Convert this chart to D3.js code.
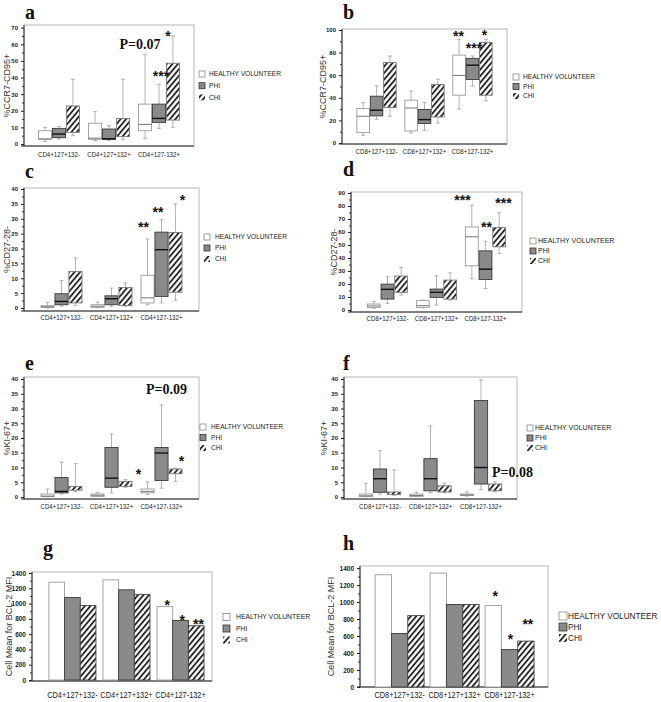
<!DOCTYPE html>
<html>
<head>
<meta charset="utf-8">
<script src="https://cdn.jsdelivr.net/npm/d3@7"></script>
<style>
body { margin: 0; background: #fff; }
</style>
</head>
<body>
<svg id="fig" width="661" height="702" font-family="'Liberation Sans', Arial, sans-serif"></svg>
<script>
// categories and groups
const cd4Cats = ["CD4+127+132-", "CD4+127+132+", "CD4+127-132+"];
const cd8Cats = ["CD8+127+132-", "CD8+127+132+", "CD8+127-132+"];
const groups = ["HEALTHY VOLUNTEER", "PHI", "CHI"];

// box stats per category: [min, q1, median, q3, max]
const aHV  = [[1.5, 3, 3, 8, 10], [2, 2.8, 3.5, 12.5, 19.5], [3.4, 8, 11.8, 24, 54]];
const aPHI = [[3, 3.8, 6, 9.4, 10.5], [2.2, 2.8, 3.2, 9, 11], [9.4, 13, 15.4, 24, 36]];
const aCHI = [[5, 7, 12, 22.9, 39], [2.8, 4.4, 8, 15.4, 39], [10, 14.4, 30, 48.6, 65]];

const bHV  = [[6.8, 9.2, 23.7, 30.5, 35.8], [8.9, 10.7, 31, 37.9, 45.9], [29.9, 42.3, 59.8, 77.8, 91.7]];
const bPHI = [[21, 24, 29, 41.4, 50.6], [11.2, 17.2, 20.7, 29.6, 35.8], [50.3, 56.2, 68.9, 74.9, 77]];
const bCHI = [[23.7, 31.4, 50, 71.3, 77], [17.8, 23, 35, 51.8, 56.5], [37.3, 42.3, 70, 89, 91.7]];

const cHV  = [[0, 0.2, 0.4, 0.8, 1.9], [0.1, 0.2, 0.6, 1.1, 2], [1.1, 1.7, 3.4, 11, 23.2]];
const cPHI = [[0.6, 1.1, 2.2, 4.8, 9.2], [0.6, 1.1, 3.1, 4.1, 6.7], [1.7, 3.9, 19.6, 25.5, 29.7]];
const cCHI = [[0.8, 1.7, 5, 12.3, 16.8], [0.6, 0.8, 3, 6.9, 8.4], [2.6, 5.3, 15, 25.4, 35]];

const dHV  = [[1.3, 2, 3.1, 4.6, 6.4], [1.6, 2, 3.3, 7.2, 7.7], [24, 34, 56.3, 63.9, 80.5]];
const dPHI = [[5.1, 8.4, 15.9, 19.9, 25.6], [3.8, 9.7, 13.6, 16.1, 26.3], [16.6, 23.5, 31.4, 45.5, 52.9]];
const dCHI = [[11.5, 13.6, 20, 26.1, 32.7], [7.7, 8.4, 15, 23, 28.6], [43.5, 48.6, 56, 63.4, 74.9]];

const eHV  = [[0.1, 0.2, 0.3, 1, 2.7], [0.2, 0.2, 0.6, 1, 1.6], [0.8, 1.4, 1.9, 2.7, 5.1]];
const ePHI = [[1, 1.4, 1.9, 6.6, 11.8], [1.4, 3.3, 6.4, 16.8, 21.4], [3, 5.6, 14.9, 16.8, 31.2]];
const eCHI = [[1.7, 2.3, 3, 3.6, 11.3], [3.3, 3.6, 4.5, 5.3, 5.9], [5.3, 7.9, 8.7, 9.5, 9.8]];

const fHV  = [[0.1, 0.2, 0.4, 1, 4.7], [0.1, 0.2, 0.5, 1, 1.7], [0.3, 0.5, 0.7, 1, 1.7]];
const fPHI = [[1, 1.6, 6.2, 9.5, 15.7], [1.4, 2.1, 6.2, 13, 24.1], [2.5, 4.4, 10, 32.7, 39.7]];
const fCHI = [[0.6, 0.8, 1.2, 1.7, 9.2], [1.4, 1.7, 2.7, 3.8, 4.7], [1.8, 2.1, 3, 4.4, 5.1]];

// BCL-2 mean MFI
const gHV  = [1280, 1310, 960];
const gPHI = [1080, 1180, 780];
const gCHI = [975, 1120, 710];
const hHV  = [1320, 1340, 960];
const hPHI = [630, 970, 440];
const hCHI = [840, 970, 540];

// y tick values
const ticks70 = d3.range(0, 71, 10);
const ticks100 = d3.range(0, 101, 20);
const ticks40 = d3.range(0, 41, 5);
const ticks90 = d3.range(0, 91, 10);
const ticks1400 = d3.range(0, 1401, 200);

const SANS = "'Liberation Sans', Arial, sans-serif";
const SERIF = "'Liberation Serif', 'Times New Roman', serif";

const svg = d3.select("#fig");
const defs = svg.append("defs");
defs.append("pattern")
  .attr("id", "hatch")
  .attr("patternUnits", "userSpaceOnUse")
  .attr("width", 4.2).attr("height", 4.2)
  .attr("patternTransform", "rotate(40)")
  .call(p => p.append("rect").attr("width", 4.2).attr("height", 4.2).attr("fill", "#fff"))
  .append("line")
  .attr("x1", 1).attr("y1", 0).attr("x2", 1).attr("y2", 4.2)
  .attr("stroke", "#111").attr("stroke-width", 1.7);

const fills = { "HEALTHY VOLUNTEER": "#fff", "PHI": "#8a8a8a", "CHI": "url(#hatch)" };
const strokes = { "HEALTHY VOLUNTEER": "#9a9a9a", "PHI": "#3a3a3a", "CHI": "#777" };

function panel(p) {
  const g = svg.append("g");
  const x = d3.scaleBand().domain(p.cats).range([p.left, p.right])
    .paddingInner(p.pi).paddingOuter(p.po).align(p.align == null ? 0.5 : p.align);
  const y = d3.scaleLinear().domain([0, p.max]).range([p.zero, p.topTick]);
  const sub = d3.scaleBand().domain(groups).range([0, x.bandwidth()]).paddingInner(p.gap || 0);

  // frame
  g.append("rect")
    .attr("x", p.left).attr("y", p.top)
    .attr("width", p.right - p.left).attr("height", p.bottom - p.top)
    .attr("fill", "none").attr("stroke", "#b8b8b8").attr("stroke-width", 1);

  // y axis with minor ticks
  const step = p.ticks[1] - p.ticks[0];
  const minor = d3.range(step / 2, p.max, step);
  g.append("g").attr("transform", `translate(${p.left},0)`)
    .call(d3.axisLeft(y).tickValues(minor).tickSize(2).tickFormat(""))
    .call(a => a.select(".domain").remove())
    .selectAll("line").attr("stroke", "#333");
  const ya = g.append("g").attr("transform", `translate(${p.left},0)`)
    .call(d3.axisLeft(y).tickValues(p.ticks).tickSize(3).tickPadding(3).tickFormat(d3.format("d")));
  ya.select(".domain").remove();
  ya.selectAll("line").attr("stroke", "#222");
  ya.selectAll("text").attr("font-size", p.tickFont || 6).attr("font-weight", "bold").attr("fill", "#222")
    .attr("font-family", SANS);
  g.append("line").attr("x1", p.left).attr("x2", p.left).attr("y1", p.top).attr("y2", p.bottom)
    .attr("stroke", "#222").attr("stroke-width", 1);
  g.append("line").attr("x1", p.left - 3).attr("x2", p.right).attr("y1", p.bottom).attr("y2", p.bottom)
    .attr("stroke", "#222").attr("stroke-width", 1);

  // category labels (slightly condensed like the original)
  p.cats.forEach(c => {
    g.append("text")
      .attr("transform", `translate(${x(c) + x.bandwidth() / 2},${p.labelY}) scale(0.82,1)`)
      .attr("text-anchor", "middle").attr("font-size", p.catFont || 7.5).attr("fill", "#222")
      .text(c);
  });

  // y title
  g.append("text")
    .attr("transform", `translate(${p.titleX},${(p.top + p.bottom) / 2}) rotate(-90)`)
    .attr("text-anchor", "middle").attr("font-size", p.titleFont || 9).attr("fill", "#333")
    .text(p.title);

  // marks
  p.series.forEach((ser, gi) => {
    const grp = groups[gi];
    ser.forEach((v, ci) => {
      const cat = p.cats[ci];
      const x0 = x(cat) + sub(grp);
      const w = sub.bandwidth();
      const cx = x0 + w / 2;
      if (p.kind === "bar") {
        g.append("rect")
          .attr("x", x0).attr("y", y(v)).attr("width", w).attr("height", y(0) - y(v))
          .attr("fill", fills[grp]).attr("stroke", grp === "CHI" ? "#444" : strokes[grp]).attr("stroke-width", 0.9);
      } else {
        const [mn, q1, md, q3, mx] = v;
        const wc = "#a0a0a0";
        g.append("line").attr("x1", cx).attr("x2", cx).attr("y1", y(mx)).attr("y2", y(q3)).attr("stroke", wc).attr("stroke-width", 0.8);
        g.append("line").attr("x1", cx).attr("x2", cx).attr("y1", y(q1)).attr("y2", y(mn)).attr("stroke", wc).attr("stroke-width", 0.8);
        [mx, mn].forEach(t => g.append("line").attr("x1", cx - 2).attr("x2", cx + 2).attr("y1", y(t)).attr("y2", y(t))
          .attr("stroke", wc).attr("stroke-width", 0.8));
        g.append("rect")
          .attr("x", x0).attr("y", y(q3)).attr("width", w).attr("height", Math.max(0.8, y(q1) - y(q3)))
          .attr("fill", fills[grp]).attr("stroke", strokes[grp]).attr("stroke-width", 0.9);
        if (grp !== "CHI") {
          g.append("line").attr("x1", x0).attr("x2", x0 + w).attr("y1", y(md)).attr("y2", y(md))
            .attr("stroke", grp === "PHI" ? "#111" : "#777").attr("stroke-width", grp === "PHI" ? 1.4 : 1);
        }
      }
    });
  });

  // significance marks and p-values
  (p.notes || []).forEach(n => {
    g.append("text")
      .attr("x", x(p.cats[n.cat]) + x.bandwidth() / 2 + n.dx)
      .attr("y", y(n.v))
      .attr("text-anchor", "middle")
      .attr("font-family", n.serif ? SERIF : SANS)
      .attr("font-weight", "bold")
      .attr("font-size", n.size || 14)
      .attr("fill", "#111")
      .text(n.t);
  });

  // legend
  const L = p.legend;
  groups.forEach((grp, i) => {
    const cy = L.y + i * L.dy;
    g.append("rect").attr("x", L.x).attr("y", cy - L.s / 2).attr("width", L.s).attr("height", L.s)
      .attr("fill", fills[grp]).attr("stroke", grp === "CHI" ? "none" : (grp === "PHI" ? "#333" : "#888")).attr("stroke-width", 0.8);
    g.append("text").attr("x", L.tx).attr("y", cy).attr("dy", "0.35em")
      .attr("font-size", L.f).attr("fill", "#222").text(grp);
  });

  // panel letter
  svg.append("text").attr("x", p.letter[1]).attr("y", p.letter[2])
    .attr("font-family", SERIF)
    .attr("font-weight", "bold").attr("font-size", 20).attr("fill", "#111")
    .text(p.letter[0]);
}

panel({
  kind: "box", cats: cd4Cats, series: [aHV, aPHI, aCHI], max: 70, ticks: ticks70,
  left: 24, right: 194, top: 25, bottom: 146, zero: 144, topTick: 27.7,
  pi: 0.18, po: 0.29, gap: 0.06, labelY: 157, title: "%CCR7-CD95+", titleX: 10,
  legend: { x: 199, tx: 209, y: 74, dy: 11.7, s: 6, f: 6.6 },
  letter: ["a", 25, 19],
  notes: [
    { cat: 2, dx: 9, v: 62, t: "*" },
    { cat: 2, dx: 2, v: 38, t: "***" },
    { cat: 2, dx: -19, v: 57, t: "P=0.07", serif: true, size: 14 }
  ]
});

panel({
  kind: "box", cats: cd8Cats, series: [bHV, bPHI, bCHI], max: 100, ticks: ticks100,
  left: 342, right: 507, top: 29, bottom: 144, zero: 143, topTick: 30,
  pi: 0.18, po: 0.31, gap: 0.06, labelY: 153.5, title: "%CCR7-CD95+", titleX: 326,
  legend: { x: 513, tx: 523, y: 77, dy: 9.5, s: 6, f: 6.6 },
  letter: ["b", 343, 19],
  notes: [
    { cat: 2, dx: -14, v: 90.3, t: "**" },
    { cat: 2, dx: 1.5, v: 79.6, t: "***" },
    { cat: 2, dx: 12, v: 91, t: "*" }
  ]
});

panel({
  kind: "box", cats: cd4Cats, series: [cHV, cPHI, cCHI], max: 40, ticks: ticks40,
  left: 24, right: 199, top: 188, bottom: 311, zero: 308, topTick: 189,
  pi: 0.18, po: 0.34, gap: 0.06, labelY: 320, title: "%CD27-28-", titleX: 10,
  legend: { x: 204, tx: 215, y: 237, dy: 11, s: 6, f: 6.6 },
  letter: ["c", 25, 178],
  notes: [
    { cat: 2, dx: -18, v: 25.5, t: "**" },
    { cat: 2, dx: -3.5, v: 30.6, t: "**" },
    { cat: 2, dx: 21, v: 34.6, t: "*" }
  ]
});

panel({
  kind: "box", cats: cd8Cats, series: [dHV, dPHI, dCHI], max: 90, ticks: ticks90,
  left: 351, right: 522, top: 192, bottom: 312, zero: 310, topTick: 193,
  pi: 0.18, po: 0.335, gap: 0.06, labelY: 321, title: "%CD27-28-", titleX: 337,
  legend: { x: 530, tx: 538, y: 241, dy: 10, s: 6, f: 7 },
  letter: ["d", 343, 176],
  notes: [
    { cat: 2, dx: -23, v: 80.8, t: "***" },
    { cat: 2, dx: 1, v: 60, t: "**" },
    { cat: 2, dx: 18, v: 78.5, t: "***" }
  ]
});

panel({
  kind: "box", cats: cd4Cats, series: [eHV, ePHI, eCHI], max: 40, ticks: ticks40,
  left: 24, right: 199, top: 377, bottom: 499, zero: 497, topTick: 379,
  pi: 0.18, po: 0.34, gap: 0.06, labelY: 509, title: "%KI-67+", titleX: 10,
  legend: { x: 200, tx: 211, y: 427, dy: 10.5, s: 6, f: 6.6 },
  letter: ["e", 25, 370],
  notes: [
    { cat: 2, dx: 5, v: 34.9, t: "P=0.09", serif: true, size: 14 },
    { cat: 1, dx: 27, v: 6.1, t: "*" },
    { cat: 2, dx: 20, v: 10.5, t: "*" }
  ]
});

panel({
  kind: "box", cats: cd8Cats, series: [fHV, fPHI, fCHI], max: 40, ticks: ticks40,
  left: 344, right: 517, top: 377, bottom: 499, zero: 497, topTick: 379,
  pi: 0.18, po: 0.303, gap: 0.06, labelY: 509, title: "%KI-67+", titleX: 327,
  legend: { x: 527, tx: 535, y: 428, dy: 10, s: 6, f: 7 },
  letter: ["f", 343, 370],
  notes: [
    { cat: 2, dx: 31.5, v: 6.8, t: "P=0.08", serif: true, size: 14 }
  ]
});

panel({
  kind: "bar", cats: cd4Cats, series: [gHV, gPHI, gCHI], max: 1400, ticks: ticks1400,
  left: 32, right: 212, top: 572, bottom: 681, zero: 680, topTick: 573,
  pi: 0.13, po: 0.23, align: 0.68, gap: 0, labelY: 698, catFont: 9, title: "Cell Mean for BCL-2 MFI", titleX: 12,
  tickFont: 6.5,
  legend: { x: 223, tx: 236, y: 617, dy: 11.5, s: 7, f: 6.8 },
  letter: ["g", 43, 555],
  notes: [
    { cat: 2, dx: -13.3, v: 916, t: "*" },
    { cat: 2, dx: 1.7, v: 720, t: "*" },
    { cat: 2, dx: 18, v: 671, t: "**" }
  ]
});

panel({
  kind: "bar", cats: cd8Cats, series: [hHV, hPHI, hCHI], max: 1400, ticks: ticks1400,
  left: 360, right: 548, top: 566, bottom: 687, zero: 687, topTick: 568,
  pi: 0.109, po: 0.264, align: 0.52, gap: 0, labelY: 698, catFont: 9, title: "Cell Mean for BCL-2 MFI", titleX: 334,
  tickFont: 6.5,
  legend: { x: 559, tx: 568, y: 616, dy: 11, s: 8, f: 8.2 },
  letter: ["h", 343, 550],
  notes: [
    { cat: 2, dx: -14.3, v: 1012, t: "*" },
    { cat: 2, dx: 1, v: 509, t: "*" },
    { cat: 2, dx: 18.3, v: 682, t: "**" }
  ]
});
</script>
</body>
</html>
